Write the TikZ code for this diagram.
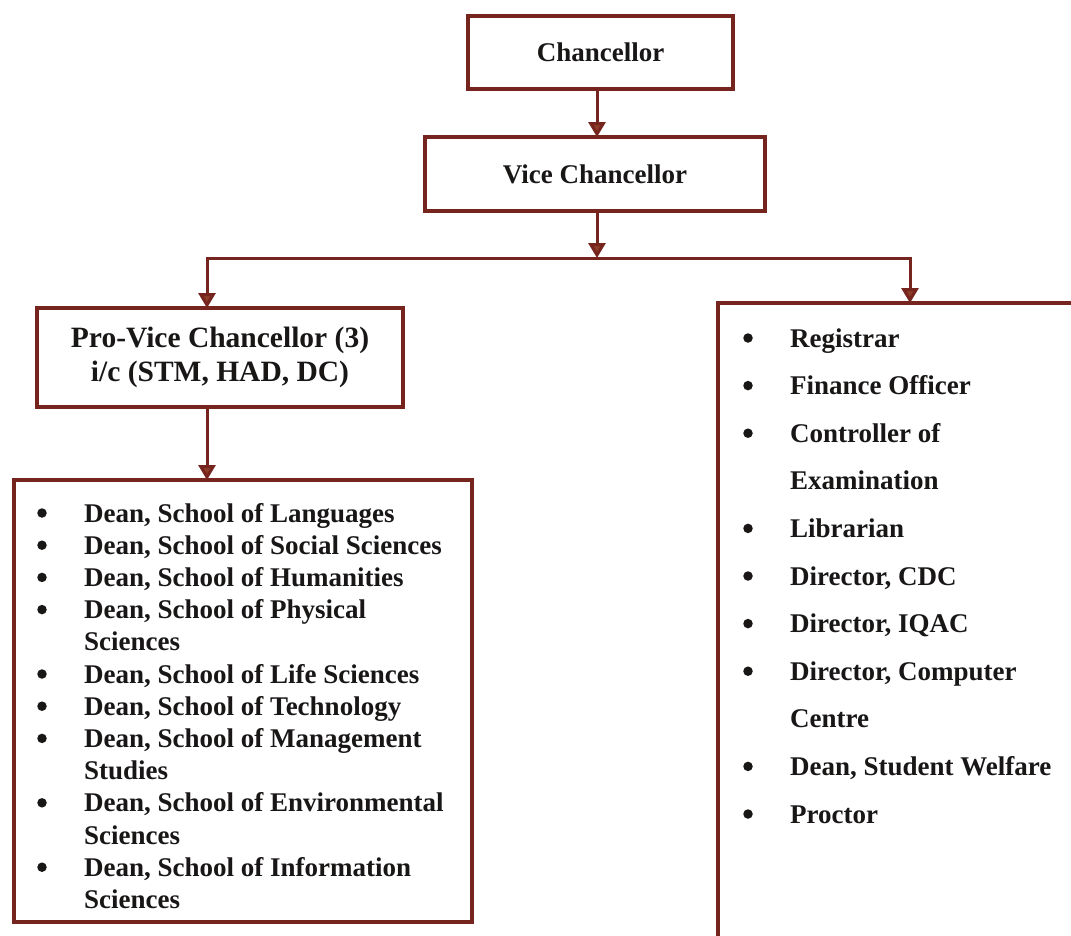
\documentclass[tikz,border=0pt]{standalone}
\usepackage{fontspec}
\setmainfont{Liberation Serif}
\usetikzlibrary{arrows.meta}
\definecolor{maroon}{RGB}{118,36,30}
\definecolor{tipfill}{RGB}{140,60,40}
\definecolor{ink}{RGB}{25,22,22}
\begin{document}
\begin{tikzpicture}[x=1pt,y=-1pt,
  box/.style={draw=maroon,line width=4pt,inner sep=0pt,outer sep=0pt,align=center,
    font=\fontsize{27}{32}\selectfont\bfseries,text=ink},
  conn/.style={draw=maroon,line width=3pt,line join=miter,
    -{Triangle[width=17pt,length=15pt,fill=tipfill]}},
  item/.style={anchor=base west,inner sep=0pt,font=\fontsize{27}{32}\selectfont\bfseries,text=ink},
  dot/.style={circle,fill=ink,inner sep=0pt,minimum size=9.5pt}]
\useasboundingbox (0,0) rectangle (1071,935);
\clip (0,0) rectangle (1071,935);
\fill[white] (0,0) rectangle (1071,935);

% boxes
\node[box,minimum width=265pt,minimum height=73pt] (chan) at (600.5,52.5) {Chancellor};
\node[box,minimum width=340pt,minimum height=74pt] (vc) at (595,174) {Vice Chancellor};
\node[box,minimum width=366pt,minimum height=99pt,
  font=\fontsize{29.5}{34}\selectfont\bfseries] (pvc) at (220,357.5)
  {Pro-Vice Chancellor (3)\\i/c (STM, HAD, DC)};
\node[box,minimum width=458pt,minimum height=442pt] (dean) at (243,701) {};
\node[box,minimum width=362pt,minimum height=642pt] (off) at (899,624) {};

% connectors
\coordinate (busM) at (597,258);
\coordinate (busL) at (207,258);
\coordinate (busR) at (910,258);
\draw[conn] (chan.south -| busM) -- (vc.north -| busM);
\draw[conn] (vc.south -| busM) -- (busM);
\draw[conn] (busM) -- (busL) -- (busL |- pvc.north);
\draw[conn] (busM) -- (busR) -- (busR |- off.north);
\draw[conn] (busL |- pvc.south) -- (busL |- dean.north);

% dean list
\foreach \t/\b [count=\i from 0] in {
  {Dean, School of Languages}/1,
  {Dean, School of Social Sciences}/1,
  {Dean, School of Humanities}/1,
  {Dean, School of Physical}/1,
  {Sciences}/0,
  {Dean, School of Life Sciences}/1,
  {Dean, School of Technology}/1,
  {Dean, School of Management}/1,
  {Studies}/0,
  {Dean, School of Environmental}/1,
  {Sciences}/0,
  {Dean, School of Information}/1,
  {Sciences}/0}{
  \node[item] (dl\i) at (84,522+32.2*\i) {\t};
  \ifnum\b=1 \node[dot] (db\i) at (42,513+32.2*\i) {};\fi
}

% officers list
\foreach \t/\b [count=\i from 0] in {
  {Registrar}/1,
  {Finance Officer}/1,
  {Controller of}/1,
  {Examination}/0,
  {Librarian}/1,
  {Director, CDC}/1,
  {Director, IQAC}/1,
  {Director, Computer}/1,
  {Centre}/0,
  {Dean, Student Welfare}/1,
  {Proctor}/1}{
  \node[item] (ol\i) at (790,347+47.6*\i) {\t};
  \ifnum\b=1 \node[dot] (ob\i) at (748,338+47.6*\i) {};\fi
}
\end{tikzpicture}
\end{document}
